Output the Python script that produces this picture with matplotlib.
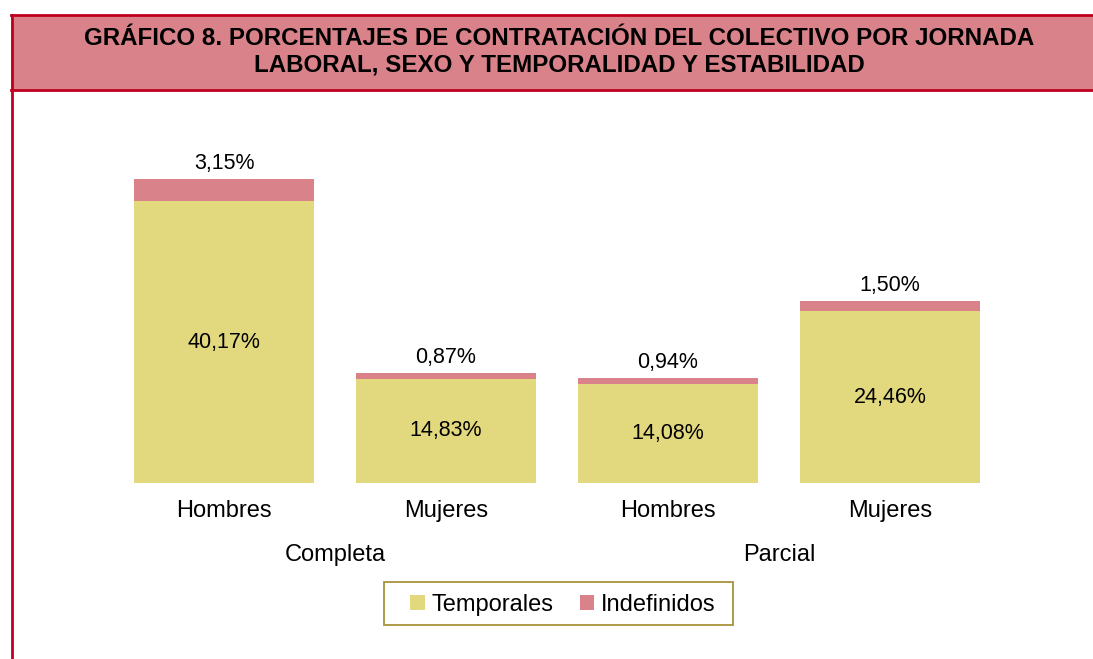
import matplotlib.pyplot as plt
from matplotlib.patches import Rectangle, Patch
from matplotlib.lines import Line2D
import numpy as np

plt.rcParams['font.family'] = ['Liberation Sans', 'DejaVu Sans']

# data
categories = ['Hombres', 'Mujeres', 'Hombres', 'Mujeres']
groups = ['Completa', 'Parcial']
temporales = [40.17, 14.83, 14.08, 24.46]
indefinidos = [3.15, 0.87, 0.94, 1.50]
series_names = ['Temporales', 'Indefinidos']
title = ('GRÁFICO 8. PORCENTAJES DE CONTRATACIÓN DEL COLECTIVO POR JORNADA\n'
         'LABORAL, SEXO Y TEMPORALIDAD Y ESTABILIDAD')

c_temp = '#E2D97F'
c_indef = '#D9828A'
c_border = '#C0001F'

W, H = 1093, 659
fig = plt.figure(figsize=(W / 100, H / 100), dpi=100)

def fx(px):
    return px / W

def fy(py):
    return 1 - py / H

# header band and frame
fig.patches.append(Rectangle((fx(11), fy(90)), fx(W - 11), fy(15) - fy(90),
                             transform=fig.transFigure, facecolor=c_indef,
                             edgecolor='none', zorder=0))
for l in [Line2D([fx(11), 1], [fy(15), fy(15)]),
          Line2D([fx(11), 1], [fy(90), fy(90)]),
          Line2D([fx(11.5), fx(11.5)], [fy(15), 0])]:
    l.set_transform(fig.transFigure)
    l.set_color(c_border)
    l.set_linewidth(2)
    fig.lines.append(l)

fig.text(fx(559), fy(52), title, ha='center', va='center', fontsize=17.4,
         fontweight='bold', linespacing=1.22)

# bars
ax = fig.add_axes([fx(113), fy(483), fx(888), fy(132) - fy(483)])
x = np.arange(len(categories))
w = 0.815
ax.bar(x, temporales, w, color=c_temp)
ax.bar(x, indefinidos, w, bottom=temporales, color=c_indef)
ax.set_xlim(-0.5, 3.5)
ax.set_ylim(0, 50)
ax.axis('off')

for i in range(len(x)):
    ax.text(x[i], temporales[i] / 2, f'{temporales[i]:.2f}%'.replace('.', ','),
            ha='center', va='center', fontsize=15.5)
    ax.annotate(f'{indefinidos[i]:.2f}%'.replace('.', ','),
                (x[i], temporales[i] + indefinidos[i]), xytext=(0, 11),
                textcoords='offset points', ha='center', va='center', fontsize=15.5)
    ax.annotate(categories[i], (x[i], 0), xytext=(0, -20),
                textcoords='offset points', ha='center', va='center', fontsize=17)

for g, name in enumerate(groups):
    ax.annotate(name, (2 * g + 0.5, 0), xytext=(0, -52),
                textcoords='offset points', ha='center', va='center', fontsize=17)

# legend (frame drawn separately)
fig.patches.append(Rectangle((fx(384), fy(625)), fx(349), fy(582) - fy(625),
                             transform=fig.transFigure, facecolor='white',
                             edgecolor='#A8923A', linewidth=1.3, zorder=1))
handles = [Patch(facecolor=c_temp), Patch(facecolor=c_indef)]
leg = fig.legend(handles, series_names, loc='center',
                 bbox_to_anchor=(fx(563), fy(605)), ncol=2, fontsize=17,
                 frameon=False, handlelength=0.6, handleheight=0.6,
                 handletextpad=0.3, columnspacing=1.1, borderpad=0,
                 borderaxespad=0)
leg.set_zorder(2)

fig.savefig('out.png', dpi=100)
